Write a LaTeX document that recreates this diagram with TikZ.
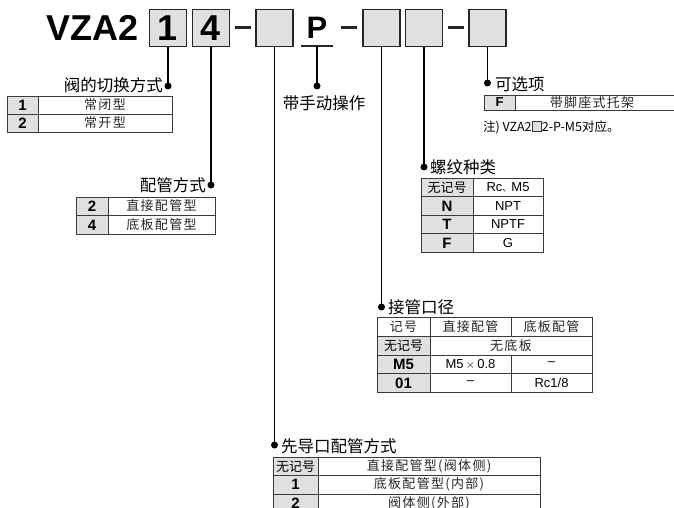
\documentclass[tikz,border=0pt]{standalone}
\usepackage{fontspec}
\setmainfont{Liberation Sans}
\newfontfamily\cjk{Noto Sans CJK SC}
\newfontfamily\cjkt[LetterSpace=10]{Noto Sans CJK SC}
\definecolor{boxgray}{HTML}{E0E0E0}
\definecolor{codegray}{HTML}{E0E0E0}
\definecolor{tabline}{HTML}{3A3A3A}
\begin{document}
\begin{tikzpicture}[x=1pt,y=-1pt,
  bigbox/.style={draw=black!85, fill=boxgray, line width=1.3pt, minimum width=37pt, minimum height=37pt, inner sep=0pt, font=\bfseries\fontsize{36}{36}\selectfont},
  dashbar/.style={fill=black!85, minimum width=16pt, minimum height=3pt, inner sep=0pt},
  conn/.style={line width=1.1pt, black},
  dotm/.style={circle, fill=black, inner sep=0pt, minimum size=7pt},
  title/.style={inner sep=0pt, font=\cjk\fontsize{16.5}{18}\selectfont},
  tab/.style={draw=tabline, line width=0.9pt},
  codetxt/.style={inner sep=0pt, font=\bfseries\fontsize{15}{15}\selectfont},
  codecjk/.style={inner sep=0pt, font=\cjk\fontsize{13}{13}\selectfont},
  celltxt/.style={inner sep=0pt, text=black!85, font=\cjkt\fontsize{13}{13}\selectfont},
  latintxt/.style={inner sep=0pt, font=\fontsize{13}{13}\selectfont}
]
\useasboundingbox (0,0) rectangle (674,508);

% ---------- top code row ----------
\node[anchor=base west, inner sep=0pt, font=\bfseries\fontsize{36}{36}\selectfont] (vza) at (46,41) {VZA2};
\node[bigbox] (b1) at (168,28) {1};
\node[bigbox] (b2) at (211,28) {4};
\node[dashbar] (h1) at (242.5,28) {};
\node[bigbox] (b3) at (274.5,28) {};
\node[inner sep=0pt, font=\bfseries\fontsize{31}{31}\selectfont] (bp) at (317,28) {P};
\coordinate (pu1) at (301,46);
\coordinate (pu2) at (333,46);
\coordinate (pu) at (317,46);
\draw[line width=1.3pt, black!85] (pu1) -- (pu2);
\node[dashbar] (h2) at (349,28) {};
\node[bigbox] (b5) at (381.5,28) {};
\node[bigbox] (b6) at (424,28) {};
\node[dashbar] (h3) at (455.5,28) {};
\node[bigbox] (b7) at (487.5,28) {};

% ---------- dots ----------
\node[dotm] (d1) at (168,86) {};
\node[dotm] (d2) at (211,185) {};
\node[dotm] (d3) at (274.5,445) {};
\node[dotm] (d4) at (317,86) {};
\node[dotm] (d5) at (381.5,307) {};
\node[dotm] (d6) at (424,167) {};
\node[dotm] (d7) at (487.5,83) {};

\draw[conn] (b1.south) -- (d1.center);
\draw[conn] (b2.south) -- (d2.center);
\draw[conn] (b3.south) -- (d3.center);
\draw[conn] (pu) -- (d4.center);
\draw[conn] (b5.south) -- (d5.center);
\draw[conn] (b6.south) -- (d6.center);
\draw[conn] (b7.south) -- (d7.center);

% ---------- titles ----------
\node[title, anchor=east] (t1) at (163,85) {阀的切换方式};
\node[title, anchor=east] (t2) at (206,185) {配管方式};
\node[title] (t4) at (324,103) {带手动操作};
\node[title, anchor=west] (t7) at (495,84) {可选项};
\node[title, anchor=west] (t6) at (430,167) {螺纹种类};
\node[title, anchor=west] (t5) at (388,307) {接管口径};
\node[title, anchor=west] (t3) at (281,446) {先导口配管方式};

% ---------- table: valve switching ----------
\fill[codegray] (7,96) rectangle (38,132);
\draw[tab] (7,96) rectangle (172,132);
\draw[tab] (38,96) -- (38,132);
\draw[tab] (7,114) -- (172,114);
\node[codetxt] (a11) at (22.5,105) {1};
\node[celltxt] (a12) at (105,105) {常闭型};
\node[codetxt] (a21) at (22.5,123) {2};
\node[celltxt] (a22) at (105,123) {常开型};

% ---------- table: piping ----------
\fill[codegray] (76,197) rectangle (108,234);
\draw[tab] (76,197) rectangle (215,234);
\draw[tab] (108,197) -- (108,234);
\draw[tab] (76,215.5) -- (215,215.5);
\node[codetxt] (p11) at (92,206) {2};
\node[celltxt] (p12) at (161.5,206) {直接配管型};
\node[codetxt] (p21) at (92,225) {4};
\node[celltxt] (p22) at (161.5,225) {底板配管型};

% ---------- table: option ----------
\fill[codegray] (484,95) rectangle (515,110);
\draw[tab] (674,95) -- (484,95) -- (484,110) -- (674,110);
\draw[tab] (515,95) -- (515,110);
\node[codetxt, font=\bfseries\fontsize{13}{13}\selectfont] (o11) at (499.5,102.5) {F};
\node[celltxt] (o12) at (592,102.5) {带脚座式托架};
\node[anchor=west, inner sep=0pt, font=\cjk\fontsize{12.5}{12.5}\selectfont] (note) at (483,127)
  {注) VZA2{\setlength{\fboxsep}{0pt}\setlength{\fboxrule}{0.6pt}\fcolorbox{black!80}{boxgray}{\rule{0pt}{9pt}\hspace{9pt}}}2-P-M5对应。};

% ---------- table: thread ----------
\fill[codegray] (421,178) rectangle (473,252);
\draw[tab] (421,178) rectangle (543,252);
\draw[tab] (473,178) -- (473,252);
\draw[tab] (421,196.5) -- (543,196.5);
\draw[tab] (421,215) -- (543,215);
\draw[tab] (421,233.5) -- (543,233.5);
\node[codecjk] (s11) at (447,187.5) {无记号};
\node[latintxt] (s12) at (508,187.5) {Rc{\cjk\fontsize{9}{9}\selectfont 、}M5};
\node[codetxt] (s21) at (447,206) {N};
\node[latintxt] (s22) at (508,206) {NPT};
\node[codetxt] (s31) at (447,224.5) {T};
\node[latintxt] (s32) at (508,224.5) {NPTF};
\node[codetxt] (s41) at (447,243) {F};
\node[latintxt] (s42) at (508,243) {G};

% ---------- table: port size ----------
\fill[codegray] (377,336) rectangle (430,392);
\draw[tab] (377,317) rectangle (592,392);
\draw[tab] (430,317) -- (430,392);
\draw[tab] (511,317) -- (511,336);
\draw[tab] (511,355) -- (511,392);
\draw[tab] (377,336) -- (592,336);
\draw[tab] (377,355) -- (592,355);
\draw[tab] (377,373.5) -- (592,373.5);
\node[celltxt] (q11) at (403.5,326.5) {记号};
\node[celltxt] (q12) at (470.5,326.5) {直接配管};
\node[celltxt] (q13) at (551.5,326.5) {底板配管};
\node[codecjk] (q21) at (403.5,345.5) {无记号};
\node[celltxt] (q22) at (511,345.5) {无底板};
\node[codetxt] (q31) at (403.5,364) {M5};
\node[latintxt] (q32) at (470.5,364) {M5\,$\times$\,0.8};
\node[latintxt] (q33) at (551.5,364) {--};
\node[codetxt] (q41) at (403.5,383) {01};
\node[latintxt] (q42) at (470.5,383) {--};
\node[latintxt] (q43) at (551.5,383) {Rc1/8};

% ---------- table: pilot port ----------
\fill[codegray] (273,457) rectangle (318,520);
\draw[tab] (273,520) -- (273,457) -- (540,457) -- (540,520);
\draw[tab] (318,457) -- (318,520);
\draw[tab] (273,475.5) -- (540,475.5);
\draw[tab] (273,494) -- (540,494);
\node[codecjk] (r11) at (295.5,466.25) {无记号};
\node[celltxt] (r12) at (429,466.25) {直接配管型(阀体侧)};
\node[codetxt] (r21) at (295.5,484.75) {1};
\node[celltxt] (r22) at (429,484.75) {底板配管型(内部)};
\node[codetxt] (r31) at (295.5,503.25) {2};
\node[celltxt] (r32) at (429,503.25) {阀体侧(外部)};
\end{tikzpicture}
\end{document}
